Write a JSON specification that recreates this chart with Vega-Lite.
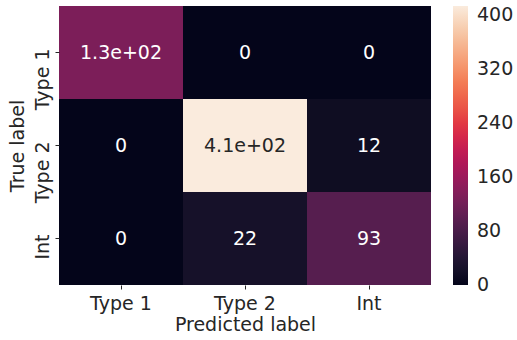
{
  "$schema": "https://vega.github.io/schema/vega-lite/v6.json",
  "width": 372,
  "height": 279,
  "autosize": "none",
  "padding": {"left": 59, "top": 6, "right": 86, "bottom": 55},
  "background": "white",
  "config": {
    "view": {"stroke": null},
    "font": "DejaVu Sans",
    "axis": {
      "domain": false,
      "grid": false,
      "tickSize": 4,
      "tickColor": "#262626",
      "labelFontSize": 19,
      "titleFontSize": 19,
      "labelColor": "#262626",
      "titleColor": "#262626",
      "titleFontWeight": "normal",
      "labelFont": "DejaVu Sans",
      "titleFont": "DejaVu Sans"
    }
  },
  "data": {
    "values": [
      {"true": "Type 1", "pred": "Type 1", "v": 130, "label": "1.3e+02"},
      {"true": "Type 1", "pred": "Type 2", "v": 0, "label": "0"},
      {"true": "Type 1", "pred": "Int", "v": 0, "label": "0"},
      {"true": "Type 2", "pred": "Type 1", "v": 0, "label": "0"},
      {"true": "Type 2", "pred": "Type 2", "v": 413, "label": "4.1e+02"},
      {"true": "Type 2", "pred": "Int", "v": 12, "label": "12"},
      {"true": "Int", "pred": "Type 1", "v": 0, "label": "0"},
      {"true": "Int", "pred": "Type 2", "v": 22, "label": "22"},
      {"true": "Int", "pred": "Int", "v": 93, "label": "93"}
    ]
  },
  "encoding": {
    "x": {
      "field": "pred", "type": "nominal", "sort": ["Type 1", "Type 2", "Int"],
      "scale": {"paddingInner": 0, "paddingOuter": 0},
      "axis": {"title": "Predicted label", "labelAngle": 0, "labelPadding": 5, "titlePadding": 2}
    },
    "y": {
      "field": "true", "type": "nominal", "sort": ["Type 1", "Type 2", "Int"],
      "scale": {"paddingInner": 0, "paddingOuter": 0},
      "axis": {"title": "True label", "labelAngle": -90, "labelAlign": "right", "labelBaseline": "alphabetic", "labelOffset": -4, "labelPadding": 7, "titlePadding": 6}
    }
  },
  "layer": [
    {
      "mark": {"type": "rect"},
      "encoding": {
        "color": {
          "field": "v", "type": "quantitative",
          "scale": {
            "domain": [-0.5, 59, 118, 177, 236, 295, 354, 413],
            "range": ["#03051a", "#35193e", "#701f57", "#ad1759", "#e13342", "#f37651", "#f6b48f", "#faebdd"]
          },
          "legend": {
            "title": null,
            "values": [0, 80, 160, 240, 320, 400],
            "gradientLength": 279,
            "gradientThickness": 15,
            "gradientStrokeWidth": 0,
            "offset": 22,
            "padding": 0,
            "labelFontSize": 19,
            "labelOffset": 9,
            "labelBaseline": "middle",
            "labelColor": "#262626",
            "labelFont": "DejaVu Sans",
            "direction": "vertical"
          }
        }
      }
    },
    {
      "mark": {"type": "text", "fontSize": 19, "font": "DejaVu Sans", "align": "center", "baseline": "middle"},
      "encoding": {
        "text": {"field": "label"},
        "color": {"condition": {"test": "datum.v > 250", "value": "#262626"}, "value": "white"}
      }
    }
  ]
}
